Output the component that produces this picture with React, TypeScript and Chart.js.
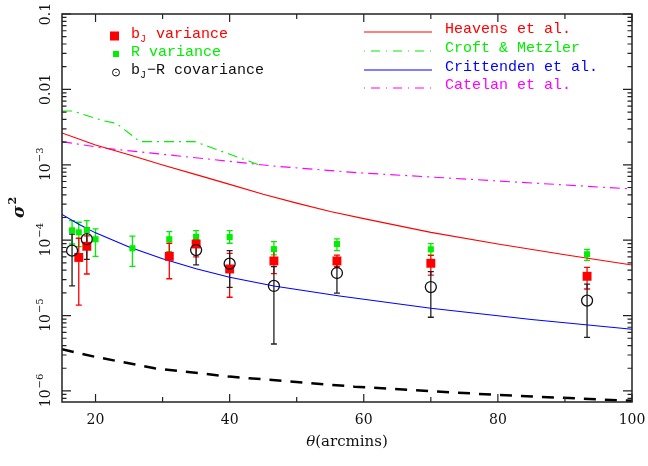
import { useEffect, useRef } from "react";
import { Chart, registerables } from "chart.js";
Chart.register(...registerables);

// ---- data ----
const bjTheta = [17.5, 18.7, 31, 35, 40, 46.6, 56, 70, 93.3];
const bjVar = [5.9e-5, 8.3e-5, 6.1e-5, 8.9e-5, 4.15e-5, 5.3e-5, 5.3e-5, 4.94e-5, 3.32e-5];
const bjLo = [1.38e-5, 3.56e-5, 3.08e-5, 6.0e-5, 1.75e-5, 3.6e-5, 4.46e-5, 3.45e-5, 2.25e-5];
const bjHi = [1.06e-4, 1.14e-4, 9.1e-5, 1.17e-4, 6.7e-5, 7.26e-5, 6.35e-5, 6.3e-5, 4.37e-5];

const rTheta = [16.5, 17.5, 18.7, 20, 25.5, 31, 35, 40, 46.6, 56, 70, 93.3];
const rVar = [1.35e-4, 1.27e-4, 1.36e-4, 1.03e-4, 7.8e-5, 1.03e-4, 1.11e-4, 1.1e-4, 7.6e-5, 8.9e-5, 7.57e-5, 6.5e-5];
const rLo = [8.9e-5, 8.2e-5, 8.4e-5, 6.1e-5, 4.5e-5, 7.05e-5, 9.2e-5, 9.1e-5, 6.4e-5, 7.26e-5, 6.35e-5, 5.4e-5];
const rHi = [1.82e-4, 1.73e-4, 1.82e-4, 1.41e-4, 1.13e-4, 1.3e-4, 1.34e-4, 1.34e-4, 9.55e-5, 1.04e-4, 9.0e-5, 7.57e-5];

const cTheta = [16.5, 18.7, 35, 40, 46.6, 56, 70, 93.3];
const cVal = [7.26e-5, 1.03e-4, 7.4e-5, 4.88e-5, 2.47e-5, 3.67e-5, 2.39e-5, 1.58e-5];
const cLo = [2.47e-5, 5.58e-5, 4.7e-5, 2.37e-5, 4.2e-6, 1.98e-5, 9.5e-6, 5.15e-6];
const cHi = [1.2e-4, 1.47e-4, 1.03e-4, 7.26e-5, 4.46e-5, 5.2e-5, 3.82e-5, 2.62e-5];

const heavensTheta = [15, 20, 25, 30, 35, 40, 45, 50, 55, 60, 70, 80, 90, 100];
const heavensVal = [2.64e-3, 1.83e-3, 1.36e-3, 9.95e-4, 7.4e-4, 5.5e-4, 4.07e-4, 3.1e-4, 2.4e-4, 1.93e-4, 1.27e-4, 8.9e-5, 6.4e-5, 4.68e-5];

const croftTheta = [15, 16.6, 21.3, 23.1, 26.6, 34.8, 44.5];
const croftVal = [5.17e-3, 5.17e-3, 3.81e-3, 3.55e-3, 2.03e-3, 2.03e-3, 9.9e-4];

const crittTheta = [15, 17.5, 20, 25, 30, 35, 40, 46.6, 56.4, 70, 85, 100];
const crittVal = [2.2e-4, 1.63e-4, 1.25e-4, 8.1e-5, 5.66e-5, 4.19e-5, 3.22e-5, 2.47e-5, 1.82e-5, 1.25e-5, 8.85e-6, 6.6e-6];

const catelanTheta = [15, 21.3, 30, 46.7, 58.9, 80, 100];
const catelanVal = [2.03e-3, 1.66e-3, 1.38e-3, 9.6e-4, 7.87e-4, 6.1e-4, 4.78e-4];

const lowTheta = [15, 20, 28.8, 40, 58.6, 80, 100];
const lowVal = [3.57e-6, 2.83e-6, 2.0e-6, 1.55e-6, 1.14e-6, 8.85e-7, 7.4e-7];

const xMajorTicks = [20, 40, 60, 80, 100];
const xMinorTicks = [30, 50, 70, 90];
const xTickLabels = ["20", "40", "60", "80", "100"];
const yDecades = [1e-6, 1e-5, 1e-4, 1e-3, 1e-2, 1e-1];
const yTickBase = ["10", "10", "10", "10", "0.01", "0.1"];
const yTickSup = ["\u22126", "\u22125", "\u22124", "\u22123", "", ""];

const leftLegend = ["variance", "R variance", "\u2212R covariance"];
const rightLegend = ["Heavens et al.", "Croft & Metzler", "Crittenden et al.", "Catelan et al."];

const RED = "#ff0000";
const GREEN = "#00ee00";
const BLUE = "#0000ff";
const MAGENTA = "#ff00ff";

const pts = (xs: number[], ys: number[]) => xs.map((x, i) => ({ x, y: ys[i] }));

const SERIF = '"DejaVu Serif", serif';
const MONO = '"Liberation Mono", monospace';

const overlay = {
  id: "overlay",
  beforeDatasetsDraw(chart: any) {
    const ctx = chart.ctx;
    const xs = chart.scales.x;
    const ys = chart.scales.y;
    const bars = (t: number[], lo: number[], hi: number[], color: string) => {
      ctx.save();
      ctx.strokeStyle = color;
      ctx.lineWidth = 1.3;
      t.forEach((th, i) => {
        const x = xs.getPixelForValue(th);
        const y1 = ys.getPixelForValue(lo[i]);
        const y2 = ys.getPixelForValue(hi[i]);
        ctx.beginPath();
        ctx.moveTo(x, y1);
        ctx.lineTo(x, y2);
        ctx.moveTo(x - 3, y1);
        ctx.lineTo(x + 3, y1);
        ctx.moveTo(x - 3, y2);
        ctx.lineTo(x + 3, y2);
        ctx.stroke();
      });
      ctx.restore();
    };
    bars(rTheta, rLo, rHi, GREEN);
    bars(bjTheta, bjLo, bjHi, RED);
    bars(cTheta, cLo, cHi, "#222");
  },
  afterDraw(chart: any) {
    const ctx = chart.ctx;
    const xs = chart.scales.x;
    const ys = chart.scales.y;
    const { left, right, top, bottom } = chart.chartArea;
    ctx.save();
    // frame
    ctx.strokeStyle = "#222";
    ctx.lineWidth = 1.5;
    ctx.strokeRect(left, top, right - left, bottom - top);
    ctx.lineWidth = 1.2;
    ctx.beginPath();
    const xt = (v: number, len: number) => {
      const x = xs.getPixelForValue(v);
      ctx.moveTo(x, bottom);
      ctx.lineTo(x, bottom - len);
      ctx.moveTo(x, top);
      ctx.lineTo(x, top + len);
    };
    xMajorTicks.forEach((v) => xt(v, 8));
    xMinorTicks.forEach((v) => xt(v, 5));
    const yt = (v: number, len: number) => {
      const y = ys.getPixelForValue(v);
      ctx.moveTo(left, y);
      ctx.lineTo(left + len, y);
      ctx.moveTo(right, y);
      ctx.lineTo(right - len, y);
    };
    yDecades.forEach((d) => {
      yt(d, 9);
      for (let k = 2; k <= 9; k++) {
        const v = k * d / 10;
        if (v > ys.min && v < ys.max) yt(v, 4.5);
      }
    });
    ctx.stroke();

    // x tick labels
    ctx.fillStyle = "#111";
    ctx.font = `14px ${SERIF}`;
    ctx.textAlign = "center";
    ctx.textBaseline = "alphabetic";
    xMajorTicks.forEach((v, i) => {
      ctx.fillText(xTickLabels[i], xs.getPixelForValue(v), 424);
    });
    // x title
    ctx.font = `italic 15px ${SERIF}`;
    const th = "\u03b8";
    const rest = "(arcmins)";
    const w1 = ctx.measureText(th).width;
    ctx.font = `15px ${SERIF}`;
    const w2 = ctx.measureText(rest).width;
    const cx = (left + right) / 2 - (w1 + w2) / 2;
    ctx.textAlign = "left";
    ctx.font = `italic 15px ${SERIF}`;
    ctx.fillText(th, cx, 446);
    ctx.font = `15px ${SERIF}`;
    ctx.fillText(rest, cx + w1, 446);

    // y tick labels (rotated)
    yDecades.forEach((d, i) => {
      const y = ys.getPixelForValue(d);
      ctx.save();
      ctx.translate(50, y);
      ctx.rotate(-Math.PI / 2);
      ctx.font = `14px ${SERIF}`;
      const wb = ctx.measureText(yTickBase[i]).width;
      ctx.font = `10px ${SERIF}`;
      const wsup = yTickSup[i] ? ctx.measureText(yTickSup[i]).width : 0;
      const x0 = -(wb + wsup) / 2;
      ctx.textAlign = "left";
      ctx.font = `14px ${SERIF}`;
      ctx.fillText(yTickBase[i], x0, 0);
      if (yTickSup[i]) {
        ctx.font = `10px ${SERIF}`;
        ctx.fillText(yTickSup[i], x0 + wb + 1, -7);
      }
      ctx.restore();
    });
    // y title
    ctx.save();
    ctx.translate(24, (top + bottom) / 2);
    ctx.rotate(-Math.PI / 2);
    ctx.font = `bold italic 17px ${SERIF}`;
    const ws = ctx.measureText("\u03c3").width;
    ctx.font = `bold 11px ${SERIF}`;
    const w22 = ctx.measureText("2").width;
    ctx.textAlign = "left";
    ctx.font = `bold italic 17px ${SERIF}`;
    ctx.fillText("\u03c3", -(ws + w22) / 2, 0);
    ctx.font = `bold 11px ${SERIF}`;
    ctx.fillText("2", -(ws + w22) / 2 + ws + 1, -8);
    ctx.restore();

    // left legend
    ctx.textAlign = "left";
    const tx = 131;
    const drawBJ = (baseY: number, color: string, tail: string) => {
      ctx.fillStyle = color;
      ctx.font = `15px ${MONO}`;
      ctx.fillText("b", tx, baseY);
      const wb = ctx.measureText("b").width;
      ctx.font = `10px ${MONO}`;
      ctx.fillText("J", tx + wb, baseY + 4);
      const wj = ctx.measureText("J").width;
      ctx.font = `15px ${MONO}`;
      ctx.fillText(tail, tx + wb + wj + 1, baseY);
    };
    ctx.fillStyle = RED;
    ctx.fillRect(110, 31.5, 9, 9);
    drawBJ(38, RED, " " + leftLegend[0]);
    ctx.fillStyle = GREEN;
    ctx.fillRect(113, 51, 6, 6);
    ctx.font = `15px ${MONO}`;
    ctx.fillText(leftLegend[1], tx, 56);
    ctx.strokeStyle = "#111";
    ctx.lineWidth = 1;
    ctx.beginPath();
    ctx.arc(116, 72.5, 3.5, 0, Math.PI * 2);
    ctx.stroke();
    ctx.fillStyle = "#111";
    ctx.fillRect(115.5, 72, 1, 1);
    drawBJ(74, "#111", leftLegend[2]);

    // right legend
    const rows = [
      { y: 32, color: RED, dash: [] as number[] },
      { y: 51, color: GREEN, dash: [1, 6, 9, 6] },
      { y: 70, color: BLUE, dash: [] as number[] },
      { y: 88, color: MAGENTA, dash: [1, 6, 9, 6] },
    ];
    rows.forEach((r, i) => {
      ctx.strokeStyle = r.color;
      ctx.lineWidth = 1.2;
      ctx.setLineDash(r.dash);
      ctx.beginPath();
      ctx.moveTo(364, r.y);
      ctx.lineTo(432, r.y);
      ctx.stroke();
      ctx.setLineDash([]);
      ctx.fillStyle = r.color;
      ctx.font = `15px ${MONO}`;
      ctx.fillText(rightLegend[i], 445, r.y + 1);
    });
    ctx.restore();
  },
};

export default function App() {
  const ref = useRef<HTMLCanvasElement>(null);
  useEffect(() => {
    document.body.style.margin = "0";
    const lineDs = (label: string, xs: number[], ys: number[], color: string, dash: number[], width: number) => ({
      label,
      data: pts(xs, ys),
      showLine: true,
      borderColor: color,
      borderWidth: width,
      borderDash: dash,
      pointRadius: 0,
      fill: false,
      order: 5,
    });
    const chart = new Chart(ref.current!, {
      type: "scatter",
      data: {
        datasets: [
          {
            label: "bJ-R covariance",
            data: pts(cTheta, cVal),
            pointStyle: "circle",
            pointRadius: 5.5,
            pointBorderWidth: 1.3,
            borderColor: "#111",
            backgroundColor: "rgba(0,0,0,0)",
            order: 0,
          } as any,
          {
            label: "bJ variance",
            data: pts(bjTheta, bjVar),
            pointStyle: "rect",
            pointRadius: 6.3,
            pointBorderWidth: 0,
            borderColor: RED,
            backgroundColor: RED,
            order: 1,
          },
          {
            label: "R variance",
            data: pts(rTheta, rVar),
            pointStyle: "rect",
            pointRadius: 4.3,
            pointBorderWidth: 0,
            borderColor: GREEN,
            backgroundColor: GREEN,
            order: 2,
          },
          lineDs("Heavens et al.", heavensTheta, heavensVal, RED, [], 1.1),
          lineDs("Croft & Metzler", croftTheta, croftVal, GREEN, [10, 5, 2, 5], 1.1),
          lineDs("Crittenden et al.", crittTheta, crittVal, BLUE, [], 1.1),
          lineDs("Catelan et al.", catelanTheta, catelanVal, MAGENTA, [10, 5, 2, 5], 1.1),
          lineDs("", lowTheta, lowVal, "#000", [12, 9], 2.5),
        ] as any,
      },
      options: {
        responsive: false,
        devicePixelRatio: 1,
        animation: false,
        layout: { padding: { left: 62, top: 14, right: 16, bottom: 64 } },
        plugins: { legend: { display: false }, tooltip: { enabled: false } },
        scales: {
          x: { type: "linear", min: 15, max: 100, display: false },
          y: { type: "logarithmic", min: 7.14e-7, max: 0.1, display: false },
        },
      } as any,
      plugins: [overlay],
    });
    return () => chart.destroy();
  }, []);
  return (
    <div style={{ position: "absolute", left: 0, top: 0, width: 648, height: 466, background: "#fff" }}>
      <canvas ref={ref} width={648} height={466} style={{ display: "block", width: 648, height: 466 }} />
    </div>
  );
}
